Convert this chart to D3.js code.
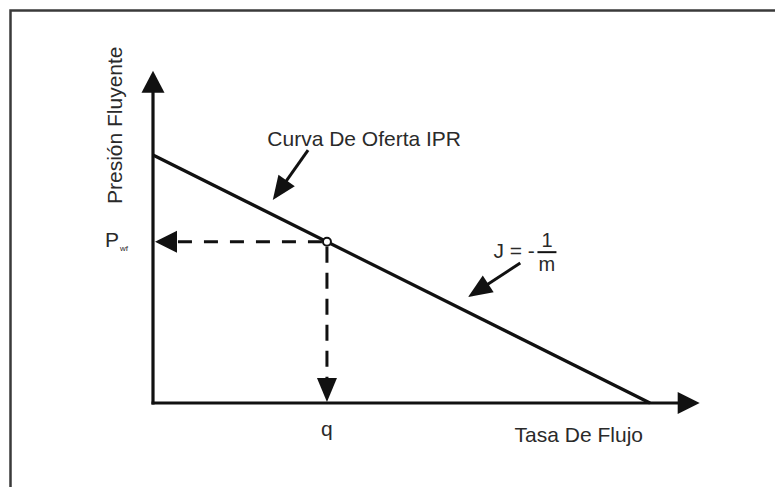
<!DOCTYPE html>
<html>
<head>
<meta charset="utf-8">
<script src="https://cdn.jsdelivr.net/npm/d3@7"></script>
<style>
body { margin: 0; background: #fff; }
svg text { font-family: 'Liberation Sans', Arial, sans-serif; fill: #2a2a2a; font-size: 21px; }
</style>
</head>
<body>
<div id="chart"><svg width="775" height="487"></svg></div>
<script>
// diagram values (arbitrary units)
const axisMax = [1100, 3350]          // end of axes [q, p]
const iprQ = [0, 1000]
const iprP = [2500, 0]
const opPoint = [350, 1625]           // (q, Pwf)
const axisTitles = ['Tasa De Flujo', 'Presión Fluyente']
const noteText = 'Curva De Oferta IPR'
// note arrows: [tail, tip] in chart units
const noteArrow = [[312, 2550], [241, 2046]]
const slopeArrow = [[739, 1411], [634, 1069]]

const svg = d3.select('#chart svg')
const ink = '#111'

const x = d3.scaleLinear().domain([0, 1000]).range([153, 650])
const y = d3.scaleLinear().domain([0, 2500]).range([403, 155])

// frame (right/bottom edges fall outside the picture)
svg.append('rect')
    .attr('x', 10.5).attr('y', 10.5)
    .attr('width', 900).attr('height', 600)
    .attr('fill', 'none')
    .attr('stroke', '#3a3a3a')
    .attr('stroke-width', 2.5)

function head(tip, dir, len, half) {
    const [tx, ty] = tip
    const ux = Math.cos(dir), uy = Math.sin(dir)
    const bx = tx - ux * len, by = ty - uy * len
    const px = -uy * half, py = ux * half
    svg.append('path')
        .attr('d', `M${tx},${ty}L${bx + px},${by + py}L${bx - px},${by - py}Z`)
        .attr('fill', ink)
}

function seg(x1, y1, x2, y2, w, dash) {
    return svg.append('line')
        .attr('x1', x1).attr('y1', y1)
        .attr('x2', x2).attr('y2', y2)
        .attr('stroke', ink)
        .attr('stroke-width', w)
        .attr('stroke-dasharray', dash || null)
}

// axes
seg(x(0), y(0) + 1.5, x(0), y(axisMax[1]) + 18, 3.2)
head([x(0), y(axisMax[1])], -Math.PI / 2, 22, 11.5)
seg(x(0) - 1.5, y(0), x(axisMax[0]) - 18, y(0), 3.2)
head([x(axisMax[0]), y(0)], 0, 22, 11)

// IPR line
svg.append('path')
    .datum(d3.zip(iprQ, iprP))
    .attr('d', d3.line().x(d => x(d[0])).y(d => y(d[1])))
    .attr('fill', 'none')
    .attr('stroke', ink)
    .attr('stroke-width', 3.2)

// dashed guides to the axes
const px0 = x(opPoint[0]), py0 = y(opPoint[1])
seg(px0 - 5, py0, x(0) + 20, py0, 3, '14,12')
head([x(0) + 2, py0], Math.PI, 22, 11)
seg(px0, py0 + 5, px0, y(0) - 20, 3, '16,10')
head([px0, y(0) - 1], Math.PI / 2, 24, 10)

svg.append('circle')
    .attr('cx', px0).attr('cy', py0).attr('r', 4)
    .attr('fill', '#fff')
    .attr('stroke', ink)
    .attr('stroke-width', 2)

// note arrows
function noteArrowDraw(a) {
    const t = [x(a[0][0]), y(a[0][1])], p = [x(a[1][0]), y(a[1][1])]
    const dir = Math.atan2(p[1] - t[1], p[0] - t[0])
    seg(t[0], t[1], p[0] - Math.cos(dir) * 18, p[1] - Math.sin(dir) * 18, 3)
    head(p, dir, 24, 10)
}
noteArrowDraw(noteArrow)
noteArrowDraw(slopeArrow)

// texts
svg.append('text')
    .attr('transform', `translate(${x(0) - 31},${y(2800)}) rotate(-90)`)
    .attr('text-anchor', 'middle')
    .text(axisTitles[1])

svg.append('text')
    .attr('x', x(iprQ[1]) - 7)
    .attr('y', y(0) + 39)
    .attr('text-anchor', 'end')
    .text(axisTitles[0])

svg.append('text')
    .attr('x', px0)
    .attr('y', y(0) + 33)
    .attr('text-anchor', 'middle')
    .text('q')

svg.append('text')
    .attr('x', x(0) - 48)
    .attr('y', py0 + 5)
    .call(t => t.append('tspan').text('P'))
    .call(t => t.append('tspan').text('wf')
        .attr('dx', 1).attr('dy', 4)
        .style('font-size', '8px'))

svg.append('text')
    .attr('x', x(230))
    .attr('y', y(2590))
    .text(noteText)

// J = -1/m
const jx = x(685), jy = y(1460)
svg.append('text')
    .attr('x', jx).attr('y', jy)
    .text('J = -')
seg(jx + 44, jy - 6, jx + 63, jy - 6, 2)
svg.append('text')
    .attr('x', jx + 53.5).attr('y', jy - 11)
    .attr('text-anchor', 'middle')
    .style('font-size', '20px')
    .text('1')
svg.append('text')
    .attr('x', jx + 53.5).attr('y', jy + 13)
    .attr('text-anchor', 'middle')
    .style('font-size', '20px')
    .text('m')
</script>
</body>
</html>
